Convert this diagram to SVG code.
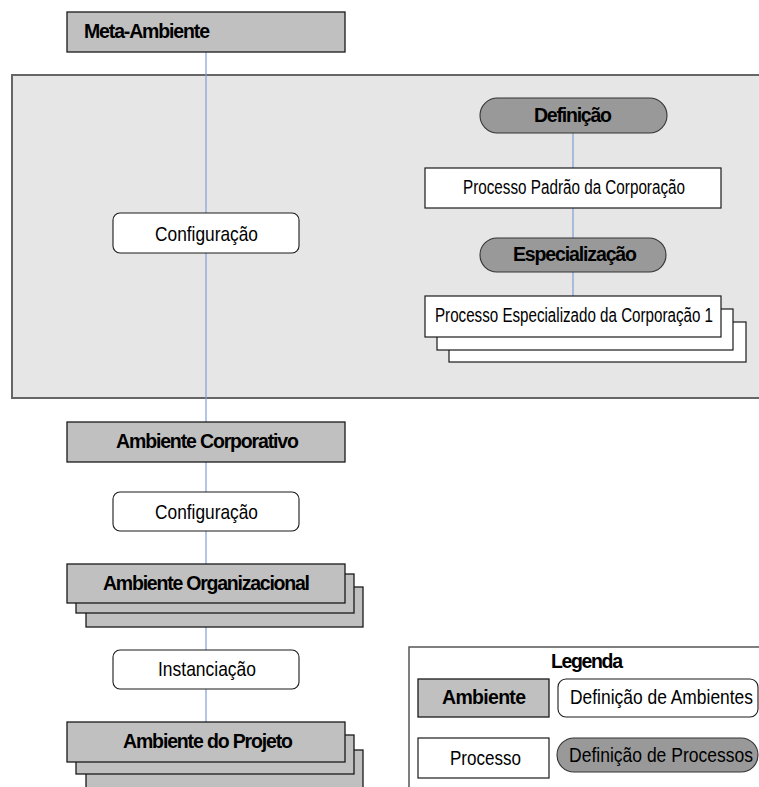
<svg xmlns="http://www.w3.org/2000/svg" width="759" height="787" viewBox="0 0 759 787">
  <style>
    text { font-family: "Liberation Sans", Arial, sans-serif; fill: #000; }
    .b { font-weight: bold; font-size: 19.5px; }
    .r { font-size: 21px; }
    .rs { font-size: 19.5px; }
    .env { fill: #c0c0c0; stroke: #1a1a1a; stroke-width: 1.3; }
    .proc { fill: #fff; stroke: #1a1a1a; stroke-width: 1.2; }
    .cfg { fill: #fff; stroke: #1a1a1a; stroke-width: 1.1; }
    .def { fill: #999; stroke: #333; stroke-width: 1.1; }
    .panel { fill: #e6e6e6; stroke: #666; stroke-width: 2; }
    .conn line { stroke: #7f9fd6; stroke-width: 1.2; }
  </style>

  <!-- environment-definition area -->
  <g id="painel-corporacao">
    <rect class="panel" x="12" y="75" width="760" height="323"/>
  </g>

  <!-- connectors -->
  <g id="conectores" class="conn">
    <line x1="206" y1="52" x2="206" y2="213"/>
    <line x1="206" y1="253" x2="206" y2="422"/>
    <line x1="206" y1="462" x2="206" y2="492"/>
    <line x1="206" y1="531" x2="206" y2="564"/>
    <line x1="206" y1="627" x2="206" y2="650"/>
    <line x1="206" y1="689" x2="206" y2="722"/>
    <line x1="573" y1="133" x2="573" y2="168"/>
    <line x1="573" y1="208" x2="573" y2="238"/>
    <line x1="573" y1="272" x2="573" y2="296"/>
  </g>

  <g id="meta-ambiente">
    <rect class="env" x="67" y="12" width="278" height="40"/>
    <text class="b" x="84" y="38" textLength="126" lengthAdjust="spacing">Meta-Ambiente</text>
  </g>

  <g id="configuracao-1">
    <rect class="cfg" x="113" y="213" width="186" height="40" rx="7"/>
    <text class="r" x="155" y="240.5" textLength="103" lengthAdjust="spacingAndGlyphs">Configuração</text>
  </g>

  <g id="definicao">
    <rect class="def" x="480" y="98" width="187" height="35" rx="17.5"/>
    <text class="b" x="534" y="122" textLength="78" lengthAdjust="spacing">Definição</text>
  </g>

  <g id="processo-padrao">
    <rect class="proc" x="425" y="168" width="296" height="40"/>
    <text class="rs" x="463" y="193.5" textLength="222" lengthAdjust="spacingAndGlyphs">Processo Padrão da Corporação</text>
  </g>

  <g id="especializacao">
    <rect class="def" x="480" y="238" width="186" height="34" rx="17"/>
    <text class="b" x="513" y="261" textLength="124" lengthAdjust="spacing">Especialização</text>
  </g>

  <g id="processo-especializado">
    <rect class="proc" x="449" y="322" width="297" height="40"/>
    <rect class="proc" x="437" y="309" width="296" height="41"/>
    <rect class="proc" x="425" y="296" width="296" height="41"/>
    <text class="rs" x="435" y="322" textLength="278" lengthAdjust="spacingAndGlyphs">Processo Especializado da Corporação 1</text>
  </g>

  <g id="ambiente-corporativo">
    <rect class="env" x="67" y="422" width="278" height="40"/>
    <text class="b" x="116" y="448" textLength="183" lengthAdjust="spacing">Ambiente Corporativo</text>
  </g>

  <g id="configuracao-2">
    <rect class="cfg" x="113" y="492" width="186" height="39" rx="7"/>
    <text class="r" x="155" y="519" textLength="103" lengthAdjust="spacingAndGlyphs">Configuração</text>
  </g>

  <g id="ambiente-organizacional">
    <rect class="env" x="86" y="587" width="277" height="40"/>
    <rect class="env" x="76" y="574" width="278" height="39"/>
    <rect class="env" x="67" y="564" width="278" height="39"/>
    <text class="b" x="103" y="590" textLength="207" lengthAdjust="spacing">Ambiente Organizacional</text>
  </g>

  <g id="instanciacao">
    <rect class="cfg" x="113" y="650" width="186" height="39" rx="7"/>
    <text class="r" x="158" y="675.5" textLength="98" lengthAdjust="spacingAndGlyphs">Instanciação</text>
  </g>

  <g id="ambiente-projeto">
    <rect class="env" x="86" y="750" width="277" height="50"/>
    <rect class="env" x="76" y="735" width="278" height="39"/>
    <rect class="env" x="67" y="722" width="278" height="40"/>
    <text class="b" x="123" y="748" textLength="170" lengthAdjust="spacing">Ambiente do Projeto</text>
  </g>

  <!-- legend -->
  <g id="legenda">
    <rect x="409" y="647" width="360" height="150" fill="#fff" stroke="#555" stroke-width="1.5"/>
    <text class="b" x="551" y="667.5" textLength="72" lengthAdjust="spacing">Legenda</text>
    <rect class="env" x="418" y="679" width="131" height="38"/>
    <text class="b" x="442" y="704" textLength="84" lengthAdjust="spacing">Ambiente</text>
    <rect class="cfg" x="558" y="679" width="200" height="38" rx="8"/>
    <text class="r" x="570" y="704" textLength="183" lengthAdjust="spacingAndGlyphs">Definição de Ambientes</text>
    <rect class="proc" x="418" y="738" width="131" height="40"/>
    <text class="r" x="450" y="764.5" textLength="71" lengthAdjust="spacingAndGlyphs">Processo</text>
    <rect class="def" x="557" y="738" width="201" height="34" rx="17"/>
    <text class="r" x="569" y="762" textLength="184" lengthAdjust="spacingAndGlyphs">Definição de Processos</text>
  </g>
</svg>
